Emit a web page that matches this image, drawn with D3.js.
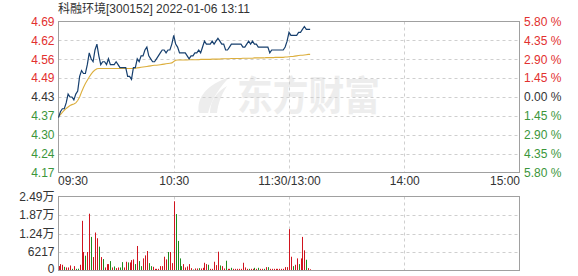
<!DOCTYPE html>
<html><head><meta charset="utf-8">
<script src="https://cdn.jsdelivr.net/npm/d3@7"></script>
<style>body{margin:0;background:#fff}svg{display:block}</style>
</head><body><svg id="c" width="578" height="276"></svg>
<script>
const title = "科融环境[300152] 2022-01-06 13:11";
const prevClose = 4.43;
const priceLabels = ["4.69","4.62","4.56","4.49","4.43","4.37","4.30","4.24","4.17"];
const pctValues = [5.80,4.35,2.90,1.45,0,-1.45,-2.90,-4.35,-5.80];
const pctLabels = ["5.80 %","4.35 %","2.90 %","1.45 %","0.00 %","1.45 %","2.90 %","4.35 %","5.80 %"];
const timeTicks = [0,60,120,180,240];
const timeLabels = ["09:30","10:30","11:30/13:00","14:00","15:00"];
const volTickValues = [0,6217,12434,18651,24868];
const volTickLabels = ["0","6217","1.24万","1.87万","2.49万"];

const price = [4.36,4.38,4.39,4.39,4.41,4.44,4.43,4.43,4.42,4.44,
4.45,4.50,4.52,4.51,4.51,4.54,4.58,4.56,4.55,4.59,
4.61,4.57,4.54,4.55,4.55,4.54,4.56,4.54,4.54,4.54,
4.55,4.54,4.53,4.53,4.53,4.53,4.50,4.50,4.49,4.53,
4.53,4.56,4.55,4.57,4.57,4.59,4.60,4.57,4.56,4.55,
4.55,4.56,4.57,4.58,4.59,4.59,4.58,4.59,4.59,4.61,
4.64,4.61,4.60,4.58,4.58,4.58,4.58,4.57,4.56,4.57,
4.57,4.58,4.58,4.59,4.58,4.60,4.62,4.61,4.61,4.61,
4.62,4.61,4.62,4.63,4.62,4.61,4.61,4.59,4.59,4.60,
4.61,4.61,4.61,4.61,4.61,4.61,4.60,4.60,4.61,4.62,
4.61,4.62,4.61,4.61,4.60,4.60,4.60,4.60,4.60,4.60,
4.58,4.59,4.59,4.59,4.59,4.59,4.59,4.59,4.60,4.62,
4.65,4.64,4.64,4.64,4.64,4.65,4.65,4.66,4.67,4.66,
4.66,4.66];

const avgPrice = [4.363,4.370,4.378,4.385,4.391,4.396,4.401,4.404,4.406,4.410,
4.418,4.430,4.447,4.462,4.476,4.487,4.498,4.508,4.516,4.522,
4.526,4.527,4.527,4.527,4.527,4.527,4.527,4.527,4.527,4.527,
4.527,4.527,4.527,4.527,4.527,4.527,4.527,4.527,4.527,4.527,
4.528,4.529,4.530,4.531,4.532,4.533,4.534,4.535,4.536,4.537,
4.538,4.538,4.539,4.540,4.541,4.542,4.543,4.544,4.545,4.546,
4.551,4.555,4.556,4.556,4.556,4.556,4.556,4.556,4.557,4.557,
4.557,4.557,4.557,4.557,4.558,4.558,4.558,4.558,4.558,4.558,
4.559,4.559,4.559,4.559,4.559,4.560,4.560,4.560,4.560,4.560,
4.561,4.561,4.561,4.561,4.561,4.561,4.562,4.562,4.562,4.562,
4.562,4.562,4.563,4.563,4.563,4.563,4.563,4.563,4.564,4.564,
4.564,4.564,4.564,4.565,4.565,4.565,4.565,4.565,4.566,4.566,
4.567,4.568,4.568,4.569,4.570,4.571,4.572,4.572,4.573,4.574,
4.575,4.575];

const volume = [1500,2150,1920,1240,1020,1020,1690,560,1470,560,
600,1920,16700,6210,4970,6210,19090,11290,4520,12760,
10840,8020,4520,3840,1020,2150,2150,3160,1020,1360,
790,1020,1020,2820,1020,2940,2710,2710,3500,3730,
2150,8240,3160,1470,4070,5080,6550,2480,1470,1240,
560,560,560,1470,1470,4630,3730,6210,6210,2480,
23270,18970,9940,4070,1470,2150,1020,1360,2150,790,
340,680,680,790,680,900,2600,2150,1920,560,
560,2940,1810,6320,1690,1470,680,3280,560,560,
900,560,560,560,560,560,2600,1020,560,560,
560,560,900,560,900,560,560,560,1130,1130,
560,560,560,560,560,560,560,560,1130,1130,
13890,4630,1470,1920,4070,2150,4070,11290,6780,3610,
800,400];

const volDir = ["u","u","u","d","u","u","u","d","u","d",
"d","u","u","u","d","u","u","d","u","u",
"u","d","u","d","u","u","u","d","u","d",
"u","u","d","d","u","u","d","u","u","u",
"d","u","d","d","u","u","u","d","d","u",
"u","u","u","u","u","u","u","d","u","u",
"u","d","d","d","d","u","u","u","u","u",
"d","u","u","d","u","u","u","u","d","u",
"u","u","u","u","d","u","u","d","u","u",
"d","u","u","u","u","u","u","u","u","d",
"u","u","d","u","d","u","u","d","u","d",
"u","u","u","u","u","u","u","u","u","u",
"u","u","d","u","u","d","u","u","u","d",
"u","u"];

const L = 58.5, R = 519.5, T = 21.5, B = 172.5, VT = 196.5, VB = 270.5;
const RED = "#e2302f", GREEN = "#3b963b", DARK = "#333";
const FONT = "'Liberation Sans', Arial, 'Noto Sans CJK SC', sans-serif";

const svg = d3.select("#c");
const x = d3.scaleLinear().domain([0, 240]).range([L, R]);
const y = d3.scaleLinear().domain([prevClose * (1 - 0.058), prevClose * (1 + 0.058)]).range([B, T]);
const yv = d3.scaleLinear().domain([0, 24868]).range([VB, VT]);
const tickPrices = pctValues.map(p => prevClose * (1 + p / 100));

// watermark
const wm = svg.append("g").attr("fill", "#ededed");
wm.append("path").attr("d", "M199,113 C196,98 207,84 230,77 C220,86 212,99 208,113 Z");
wm.append("path").attr("d", "M210,113 C210,102 216,92 227,86 C221,95 218,104 217,113 Z");
wm.append("text").attr("x", 237).attr("y", 110).attr("font-size", 40).attr("font-weight", "bold")
  .attr("font-family", "'Noto Sans CJK SC', sans-serif")
  .attr("textLength", 143).attr("lengthAdjust", "spacingAndGlyphs").text("东方财富");

// title
svg.append("text").attr("x", 58).attr("y", 13).attr("font-size", 12).attr("font-family", FONT)
  .attr("fill", DARK).text(title);

const grid = svg.append("g").attr("stroke", "#cfcfcf").attr("stroke-dasharray", "3,3").attr("fill", "none");
tickPrices.slice(1, -1).forEach(v => {
  const yy = Math.round(y(v)) + 0.5;
  grid.append("line").attr("x1", L).attr("x2", R).attr("y1", yy).attr("y2", yy);
});
volTickValues.slice(1, -1).forEach(v => {
  const yy = Math.round(yv(v)) + 0.5;
  grid.append("line").attr("x1", L).attr("x2", R).attr("y1", yy).attr("y2", yy);
});
timeTicks.slice(1, -1).forEach(t => {
  const xx = Math.round(x(t)) + 0.5;
  grid.append("line").attr("x1", xx).attr("x2", xx).attr("y1", T).attr("y2", B);
  grid.append("line").attr("x1", xx).attr("x2", xx).attr("y1", VT).attr("y2", VB);
});

// borders
svg.append("rect").attr("x", L).attr("y", T).attr("width", R - L).attr("height", B - T)
  .attr("fill", "none").attr("stroke", "#a0a0a0");
svg.append("rect").attr("x", L).attr("y", VT).attr("width", R - L).attr("height", VB - VT)
  .attr("fill", "none").attr("stroke", "#a0a0a0");

const colorFor = p => p > 0 ? RED : (p < 0 ? GREEN : DARK);

// left price axis
const la = svg.append("g").attr("transform", `translate(${L},0)`)
  .call(d3.axisLeft(y).tickValues(tickPrices).tickFormat((d, i) => priceLabels[i]).tickSize(0).tickPadding(4));
la.select(".domain").remove();
la.selectAll("text").attr("font-size", 12).attr("font-family", FONT)
  .attr("fill", (d, i) => colorFor(pctValues[i]));

// right pct axis
const ra = svg.append("g").attr("transform", `translate(${R},0)`)
  .call(d3.axisRight(y).tickValues(tickPrices).tickFormat((d, i) => pctLabels[i]).tickSize(0).tickPadding(4.5));
ra.select(".domain").remove();
ra.selectAll("text").attr("font-size", 12).attr("font-family", FONT)
  .attr("fill", (d, i) => colorFor(pctValues[i]));

// time axis
const ta = svg.append("g").attr("transform", `translate(0,${B})`)
  .call(d3.axisBottom(x).tickValues(timeTicks).tickFormat((d, i) => timeLabels[i]).tickSize(0).tickPadding(4));
ta.select(".domain").remove();
ta.selectAll("text").attr("font-size", 12).attr("font-family", FONT).attr("fill", DARK)
  .attr("text-anchor", (d, i) => i === 0 ? "start" : (i === timeTicks.length - 1 ? "end" : "middle"))
  .attr("dx", (d, i) => i === 0 ? -1 : 0);

// volume axis
const va = svg.append("g").attr("transform", `translate(${L},0)`)
  .call(d3.axisLeft(yv).tickValues(volTickValues).tickFormat((d, i) => volTickLabels[i]).tickSize(0).tickPadding(4));
va.select(".domain").remove();
va.selectAll("text").attr("font-size", 12).attr("font-family", FONT).attr("fill", DARK)
  .attr("y", (d, i) => i === 0 ? -1.5 : 0);

// volume bars
svg.append("g").selectAll("rect").data(volume).join("rect")
  .attr("x", (d, i) => Math.round(x(i)))
  .attr("width", 1)
  .attr("y", d => yv(d))
  .attr("height", d => VB - 0.5 - yv(d))
  .attr("fill", (d, i) => volDir[i] === "u" ? "#d0141e" : "#1e8a1e");

// average line
svg.append("path").datum(avgPrice)
  .attr("d", d3.line().x((d, i) => x(i)).y(d => y(d)))
  .attr("fill", "none").attr("stroke", "#dcae3c").attr("stroke-width", 1.1);

// price line
svg.append("path").datum(price)
  .attr("d", d3.line().x((d, i) => x(i)).y(d => y(d)))
  .attr("fill", "none").attr("stroke", "#163f6e").attr("stroke-width", 1.2);
</script></body></html>
